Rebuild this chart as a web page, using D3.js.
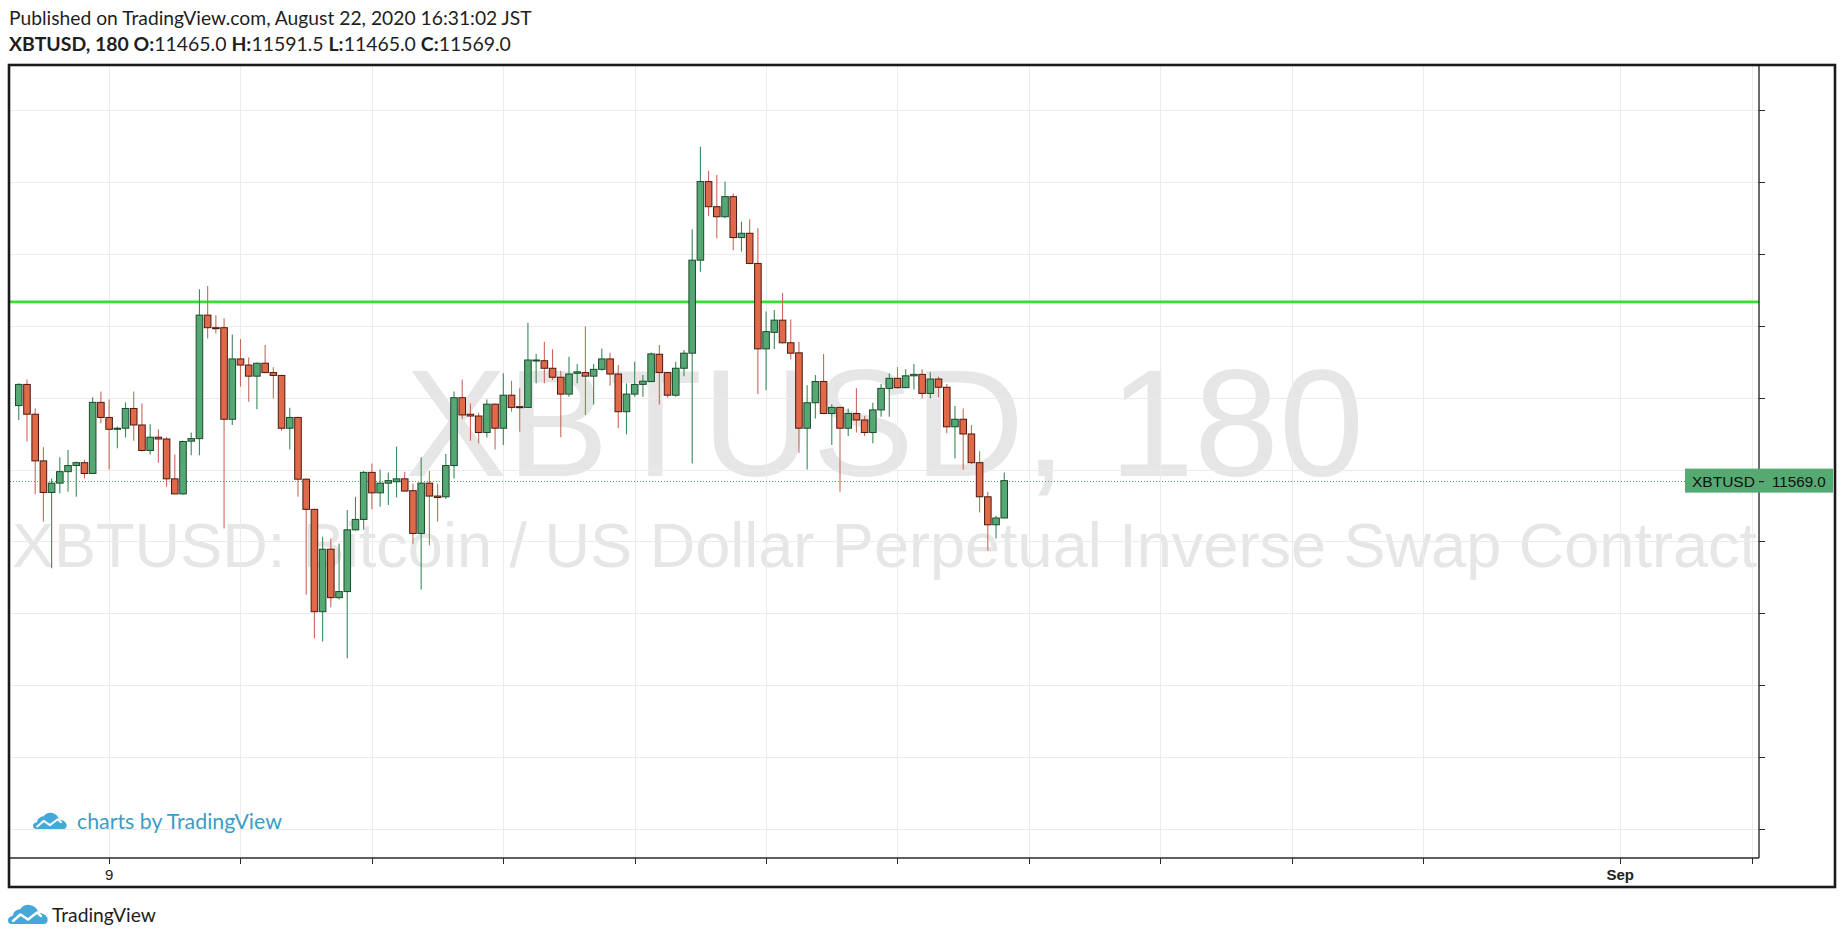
<!DOCTYPE html>
<html><head><meta charset="utf-8">
<script src="https://cdn.jsdelivr.net/npm/d3@7"></script>
<style>html,body{margin:0;padding:0;background:#fff;overflow:hidden}</style>
</head><body>
<svg id="chart" width="1845" height="942"></svg>
<script>
// ---- data (3h candles, XBTUSD, times in JST wall-clock) ----
const firstBar = "2020-08-07T15:00:00Z";
const barHours = 3;
const opens  = [11778,11837,11754,11624,11536,11562,11594,11611,11619,11589,11787,11745,11712,11715,11770,11724,11653,11690,11685,11574,11532,11679,11686,12030,11995,11995,11740,11908,11891,11860,11896,11870,11862,11715,11745,11573,11489,11204,11378,11243,11260,11432,11461,11592,11535,11562,11566,11574,11541,11422,11562,11526,11524,11611,11800,11754,11749,11703,11782,11715,11807,11775,11773,11903,11903,11882,11857,11810,11868,11870,11860,11879,11908,11866,11761,11810,11837,11845,11921,11870,11807,11882,11924,12183,12402,12332,12304,12360,12246,12258,12174,11936,11982,12016,11953,11925,11715,11786,11845,11756,11773,11715,11756,11738,11703,11766,11826,11854,11828,11861,11865,11812,11852,11829,11719,11740,11699,11619,11524,11446,11465];
const highs  = [11840,11851,11770,11662,11575,11634,11654,11622,11627,11801,11817,11795,11720,11787,11817,11784,11726,11712,11690,11642,11680,11703,12102,12111,12030,12021,11976,11963,11912,11898,11947,11885,11864,11772,11747,11575,11491,11413,11408,11394,11487,11524,11596,11617,11600,11592,11664,11594,11560,11634,11596,11560,11643,11817,11851,11784,11758,11795,11784,11868,11847,11826,12009,11922,11956,11935,11875,11914,11894,11998,11894,11937,11925,11891,11840,11900,11863,11926,11947,11872,11900,11933,12269,12499,12432,12420,12402,12369,12290,12297,12272,12040,12044,12092,12018,11956,11835,11863,11922,11782,11775,11770,11826,11749,11786,11838,11868,11885,11879,11894,11879,11871,11859,11838,11777,11770,11724,11651,11538,11471,11591.5];
const lows   = [11738,11678,11531,11455,11325,11534,11538,11524,11575,11589,11729,11600,11659,11689,11680,11650,11642,11619,11552,11532,11530,11640,11640,11965,11979,11436,11724,11831,11789,11768,11868,11798,11708,11656,11524,11251,11130,11121,11216,11238,11074,11430,11432,11489,11496,11501,11522,11538,11393,11266,11389,11455,11518,11575,11740,11680,11673,11689,11656,11668,11761,11705,11771,11840,11840,11849,11690,11803,11840,11752,11781,11875,11833,11715,11698,11803,11803,11843,11781,11800,11803,11860,11617,12151,12306,12244,12300,12211,12207,12172,11810,11821,11936,11951,11907,11647,11600,11742,11754,11668,11538,11693,11703,11693,11673,11747,11747,11825,11826,11823,11798,11798,11801,11701,11631,11599,11615,11480,11374,11408,11465];
const closes = [11837,11754,11624,11536,11562,11594,11611,11619,11589,11787,11745,11712,11715,11770,11724,11653,11690,11685,11574,11532,11678,11686,12030,11995,11993,11740,11908,11891,11860,11896,11870,11862,11715,11745,11573,11489,11204,11378,11243,11260,11432,11461,11592,11535,11562,11569,11574,11540,11422,11562,11526,11522,11611,11800,11752,11749,11703,11782,11715,11807,11773,11773,11905,11905,11882,11857,11810,11866,11872,11860,11879,11908,11866,11761,11810,11837,11846,11922,11870,11807,11882,11924,12183,12402,12332,12304,12360,12246,12258,12174,11936,11984,12016,11953,11924,11715,11786,11845,11756,11773,11715,11756,11738,11703,11766,11826,11854,11828,11861,11865,11812,11852,11829,11719,11740,11699,11619,11524,11446,11465,11569];
const levelPrice = 12067;
const lastPrice = 11569.0;
const priceTicks = [10600,10800,11000,11200,11400,11600,11800,12000,12200,12400,12600];
const timeTicks = ["2020-08-09","2020-08-11","2020-08-13","2020-08-15","2020-08-17","2020-08-19","2020-08-21","2020-08-23","2020-08-25","2020-08-27","2020-08-29","2020-09-01","2020-09-03"];
const timeTickLabels = ["9","","","","","","","","","","","Sep",""];
const headerLine1 = "Published on TradingView.com, August 22, 2020 16:31:02 JST";
const symbolTitle = "XBTUSD, 180";
const ohlcLabels = ["O:","H:","L:","C:"];
const ohlcValues = ["11465.0","11591.5","11465.0","11569.0"];
const watermark1 = "XBTUSD, 180";
const watermark2 = "XBTUSD: Bitcoin / US Dollar Perpetual Inverse Swap Contract";

// ---- layout ----
const W = 1845, H = 942;
const P = {left: 10, right: 1759, top: 65, bottom: 858};
const svg = d3.select("#chart");
const DAY = 86400000;
const base = Date.parse("2020-08-09T00:00:00Z");

const bars = opens.map((o, i) => ({
  t: new Date(Date.parse(firstBar) + i * barHours * 3600000),
  o, h: highs[i], l: lows[i], c: closes[i]
}));

const x = d3.scaleUtc()
  .domain([new Date(base - 1.5084 * DAY), new Date(base + 25.113 * DAY)])
  .range([P.left, P.right]);
const y = d3.scaleLinear().domain([10517.9, 12726.7]).range([P.bottom, P.top]);

const step = x(new Date(base + barHours * 3600000)) - x(new Date(base));
const bodyW = step * 0.8;

function fit(sel, target) {
  const n = sel.node();
  const w = n.getComputedTextLength();
  const fs = parseFloat(sel.attr("font-size"));
  if (w > 0) sel.attr("font-size", (fs * target / w).toFixed(2));
}

// header
const h1 = svg.append("text").attr("x", 9).attr("y", 25)
  .attr("font-family", "Lato, 'Open Sans', sans-serif").attr("font-size", 19)
  .attr("fill", "#1e1e1e").text(headerLine1);
fit(h1, 523);
const h2 = svg.append("text").attr("x", 9).attr("y", 50.5)
  .attr("font-family", "Lato, 'Open Sans', sans-serif").attr("font-size", 19)
  .attr("fill", "#1e1e1e");
h2.append("tspan").attr("font-weight", "bold").text(symbolTitle + "  ");
ohlcLabels.forEach((lab, i) => {
  h2.append("tspan").attr("font-weight", "bold").text(lab);
  h2.append("tspan").text(ohlcValues[i] + (i < 3 ? " " : ""));
});
fit(h2, 502);

// watermarks
const g = svg.append("g");
const cx = (P.left + P.right) / 2;
const wm1 = g.append("text").attr("x", cx).attr("y", 476).attr("text-anchor", "middle")
  .attr("font-family", "'Liberation Sans', Arial, sans-serif").attr("font-size", 154)
  .attr("fill", "#e6e6e6").text(watermark1);
fit(wm1, 959);
const wm2 = g.append("text").attr("x", cx).attr("y", 567).attr("text-anchor", "middle")
  .attr("font-family", "'Liberation Sans', Arial, sans-serif").attr("font-size", 63)
  .attr("fill", "#e6e6e6").text(watermark2);
fit(wm2, 1745);

// grid
const tickDates = timeTicks.map(s => new Date(s + "T00:00:00Z"));
g.selectAll("line.vg").data(tickDates).join("line")
  .attr("x1", d => Math.round(x(d)) + 0.5).attr("x2", d => Math.round(x(d)) + 0.5)
  .attr("y1", P.top).attr("y2", P.bottom)
  .attr("stroke", "#ebebeb").attr("stroke-width", 1);
g.selectAll("line.hg").data(priceTicks).join("line")
  .attr("x1", P.left).attr("x2", P.right)
  .attr("y1", d => Math.round(y(d)) + 0.5).attr("y2", d => Math.round(y(d)) + 0.5)
  .attr("stroke", "#ebebeb").attr("stroke-width", 1);

// level line
g.append("line").attr("x1", P.left).attr("x2", P.right)
  .attr("y1", y(levelPrice)).attr("y2", y(levelPrice))
  .attr("stroke", "#2ee52e").attr("stroke-width", 2.8);

// last price dotted line
g.append("line").attr("x1", P.left).attr("x2", 1685)
  .attr("y1", Math.round(y(lastPrice)) + 0.5).attr("y2", Math.round(y(lastPrice)) + 0.5)
  .attr("stroke", "#4f9e6c").attr("stroke-width", 1).attr("stroke-dasharray", "1,2");

// candles
const cg = svg.append("g");
const up = d => d.c >= d.o;
cg.selectAll("line.wick").data(bars).join("line")
  .attr("x1", d => x(d.t)).attr("x2", d => x(d.t))
  .attr("y1", d => y(d.h)).attr("y2", d => y(d.l))
  .attr("stroke", d => up(d) ? "#3b8a58" : "#c9695a").attr("stroke-width", 1.1);
cg.selectAll("rect.body").data(bars).join("rect")
  .attr("x", d => x(d.t) - bodyW / 2)
  .attr("y", d => y(Math.max(d.o, d.c)))
  .attr("width", bodyW)
  .attr("height", d => Math.max(1, Math.abs(y(d.o) - y(d.c))))
  .attr("fill", d => up(d) ? "#55a873" : "#e0694a")
  .attr("stroke", d => up(d) ? "#1d4a2e" : "#4a1a10")
  .attr("stroke-width", 1);

// axes lines, ticks
const ax = svg.append("g");
ax.append("line").attr("x1", 9).attr("x2", P.right).attr("y1", P.bottom).attr("y2", P.bottom)
  .attr("stroke", "#2a2a2a").attr("stroke-width", 1.4);
ax.selectAll("line.tt").data(tickDates).join("line")
  .attr("x1", d => Math.round(x(d)) + 0.5).attr("x2", d => Math.round(x(d)) + 0.5)
  .attr("y1", P.bottom).attr("y2", P.bottom + 6)
  .attr("stroke", "#2a2a2a").attr("stroke-width", 1);
ax.selectAll("text.tl").data(tickDates).join("text")
  .attr("x", d => x(d)).attr("y", 880).attr("text-anchor", "middle")
  .attr("font-family", "'Liberation Sans', Arial, sans-serif").attr("font-size", 15)
  .attr("font-weight", (d, i) => timeTickLabels[i] === "Sep" ? "bold" : "normal")
  .attr("fill", "#222").text((d, i) => timeTickLabels[i]);
ax.selectAll("line.pt").data(priceTicks).join("line")
  .attr("x1", P.right).attr("x2", P.right + 6)
  .attr("y1", d => Math.round(y(d)) + 0.5).attr("y2", d => Math.round(y(d)) + 0.5)
  .attr("stroke", "#2a2a2a").attr("stroke-width", 1);
ax.append("line").attr("x1", P.right).attr("x2", P.right).attr("y1", P.top).attr("y2", P.bottom)
  .attr("stroke", "#2a2a2a").attr("stroke-width", 1.4);

// last price label
const ly = y(lastPrice);
ax.append("rect").attr("x", 1685).attr("y", ly - 12).attr("width", 148).attr("height", 24)
  .attr("fill", "#55aa72");
ax.append("text").attr("x", 1692).attr("y", ly + 6.5)
  .attr("font-family", "'Liberation Sans', Arial, sans-serif").attr("font-size", 15.5)
  .attr("fill", "#101010").text("XBTUSD");
ax.append("text").attr("x", 1772).attr("y", ly + 6.5)
  .attr("font-family", "'Liberation Sans', Arial, sans-serif").attr("font-size", 15.2)
  .attr("fill", "#101010").text(lastPrice.toFixed(1));
ax.append("line").attr("x1", P.right).attr("x2", P.right + 5).attr("y1", ly + 1).attr("y2", ly + 1)
  .attr("stroke", "#222").attr("stroke-width", 1.2);

// frame
svg.append("rect").attr("x", 9).attr("y", 65).attr("width", 1826).attr("height", 822)
  .attr("fill", "none").attr("stroke", "#1a1a1a").attr("stroke-width", 2.6);

// logos
function logo(x0, y0, s, color) {
  const lg = svg.append("g").attr("transform", `translate(${x0},${y0}) scale(${s})`);
  lg.append("path")
    .attr("d", "M4,20 Q0,20 0,16.5 Q0,12.5 4.5,12 Q6,5.5 12.5,5 Q16,0 22,1 Q29,2.5 30.5,9 Q37,9 39.5,14 Q40.5,20 35,20 Z")
    .attr("fill", color);
  lg.append("path").attr("d", "M5,17 L12.5,10.5 L20,15.5 L29,8.5 L33,12")
    .attr("fill", "none").attr("stroke", "#fff").attr("stroke-width", 2.4)
    .attr("stroke-linejoin", "round").attr("stroke-linecap", "round");
}
logo(33, 812, 0.85, "#45a8d8");
const cb = svg.append("text").attr("x", 77).attr("y", 829)
  .attr("font-family", "Lato, 'Open Sans', sans-serif").attr("font-size", 19)
  .attr("fill", "#3d9cc6").text("charts by TradingView");
fit(cb, 205);
logo(8, 904, 1.0, "#45a8d8");
const tv = svg.append("text").attr("x", 52).attr("y", 922)
  .attr("font-family", "Lato, 'Open Sans', sans-serif").attr("font-size", 19)
  .attr("fill", "#1e1e1e").text("TradingView");
fit(tv, 104);
</script>
</body></html>
